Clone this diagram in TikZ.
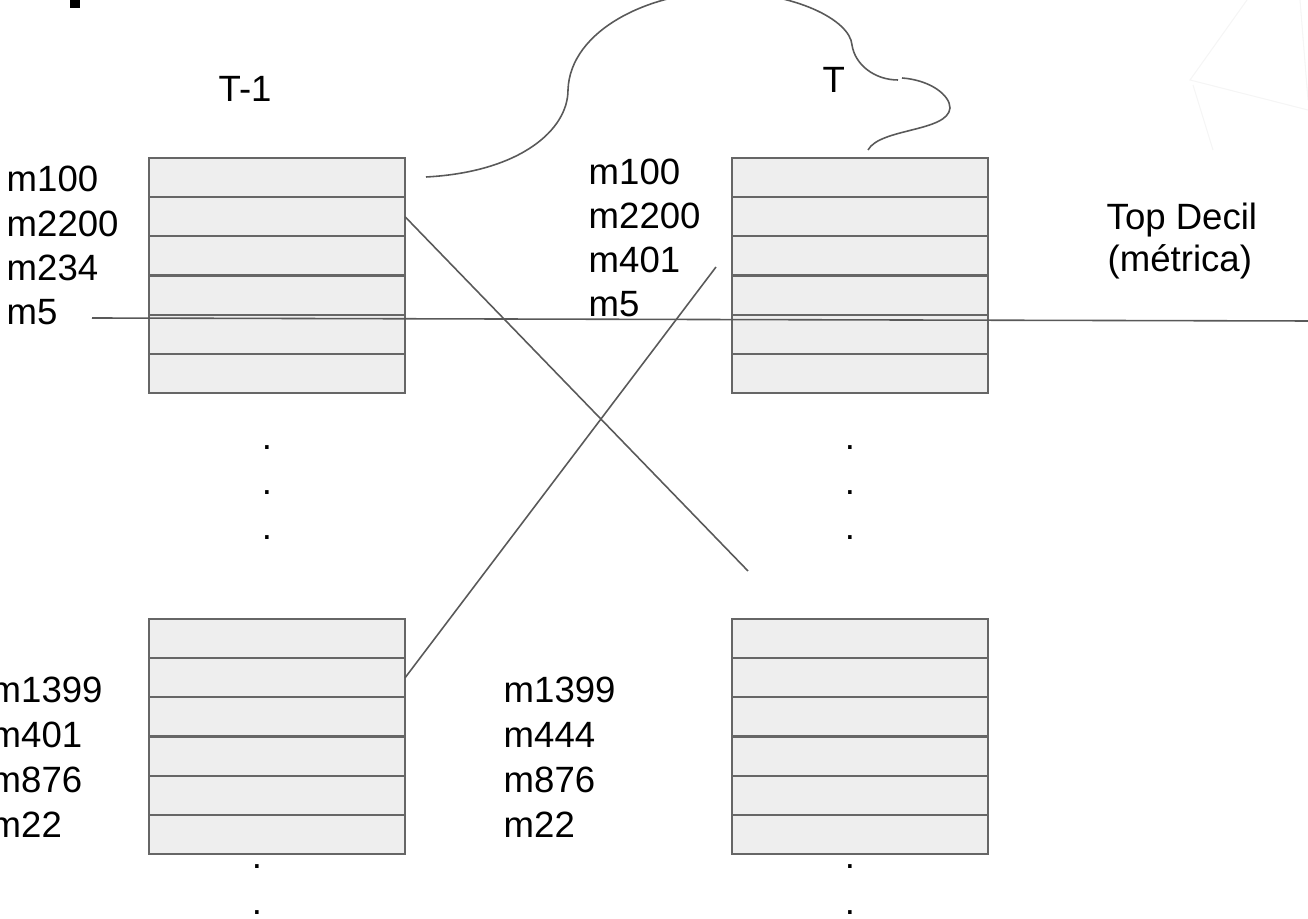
\documentclass[tikz,border=0pt]{standalone}
\usepackage{fontspec}
\setmainfont{Liberation Sans}
\usepackage{tikz}
\usetikzlibrary{positioning}

\definecolor{cellfill}{HTML}{EEEEEE}
\definecolor{celledge}{HTML}{666666}
\definecolor{linkgray}{HTML}{595959}

\tikzset{
  cell/.style={draw=celledge, fill=cellfill, line width=0.6pt, minimum width=2.56cm, minimum height=0.3917cm, inner sep=0pt, outer sep=0pt},
  link/.style={draw=linkgray, line width=0.45pt},
  faint/.style={draw=black!4, line width=0.3pt},
  lbl/.style={anchor=base west, inner sep=0pt, font=\fontsize{10.4}{12}\selectfont},
  dot/.style={anchor=base, inner sep=0pt, font=\fontsize{10.4}{12}\selectfont},
}

\begin{document}
\begin{tikzpicture}[x=0.01cm, y=-0.01cm]

\useasboundingbox (0,0) rectangle (1308,919);

\draw[faint] (1247,0) -- (1190,80) -- (1308,110);
\draw[faint] (1193,85) -- (1213,150);
\draw[faint] (1300,0) -- (1308,100);

\fill[black] (70,0) rectangle (80,8);

\foreach \i in {1,...,6} {
  \node[cell] (tl\i) at (277, {158+39.17*\i-19.58}) {};
  \node[cell] (tr\i) at (860, {158+39.17*\i-19.58}) {};
  \node[cell] (bl\i) at (277, {619+39.17*\i-19.58}) {};
  \node[cell] (br\i) at (860, {619+39.17*\i-19.58}) {};
}

\node[lbl] (tminus) at (218,102) {T-1};
\node[lbl] (tnow) at (822,93) {T};

\foreach \t [count=\i] in {m100,m2200,m234,m5}
  \node[lbl] (tla\i) at (6, {192+44.3*(\i-1)}) {\t};
\foreach \t [count=\i] in {m100,m2200,m401,m5}
  \node[lbl] (tra\i) at (588, {185+44*(\i-1)}) {\t};
\foreach \t [count=\i] in {m1399,m401,m876,m22}
  \node[lbl] (bla\i) at (-10, {703+44.7*(\i-1)}) {\t};
\foreach \t [count=\i] in {m1399,m444,m876,m22}
  \node[lbl] (bra\i) at (503, {703+44.7*(\i-1)}) {\t};

\node[lbl] (top) at (1106,230) {Top Decil};
\node[lbl] (metric) at (1107,272) {(métrica)};

\foreach \y [count=\i] in {450,495,540} {
  \node[dot] (tld\i) at (267,\y) {.};
  \node[dot] (trd\i) at (850,\y) {.};
}
\foreach \y [count=\i] in {869,915} {
  \node[dot] (bld\i) at (257,\y) {.};
  \node[dot] (brd\i) at (850,\y) {.};
}

\coordinate (h1) at (92,318);
\coordinate (h2) at (1308,321);
\coordinate (e1) at (748,571);
\coordinate (e2) at (716,267);
\coordinate (c0) at (426,177);
\coordinate (c1) at (898,80);
\coordinate (c2) at (902,78);
\coordinate (c3) at (868,150);

\draw[link] (h1) -- (h2);
\draw[link] (tl2.east) -- (e1);
\draw[link] (bl2.east) -- (e2);

\draw[link] (c0) .. controls (520,172) and (568,130) .. (568,90)
  .. controls (570,30) and (650,-8) .. (722,-8)
  .. controls (795,-8) and (850,20) .. (852,45)
  .. controls (855,65) and (875,80) .. (c1);
\draw[link] (c2) .. controls (930,80) and (950,95) .. (950,108)
  .. controls (948,132) and (880,128) .. (c3);

\end{tikzpicture}
\end{document}
